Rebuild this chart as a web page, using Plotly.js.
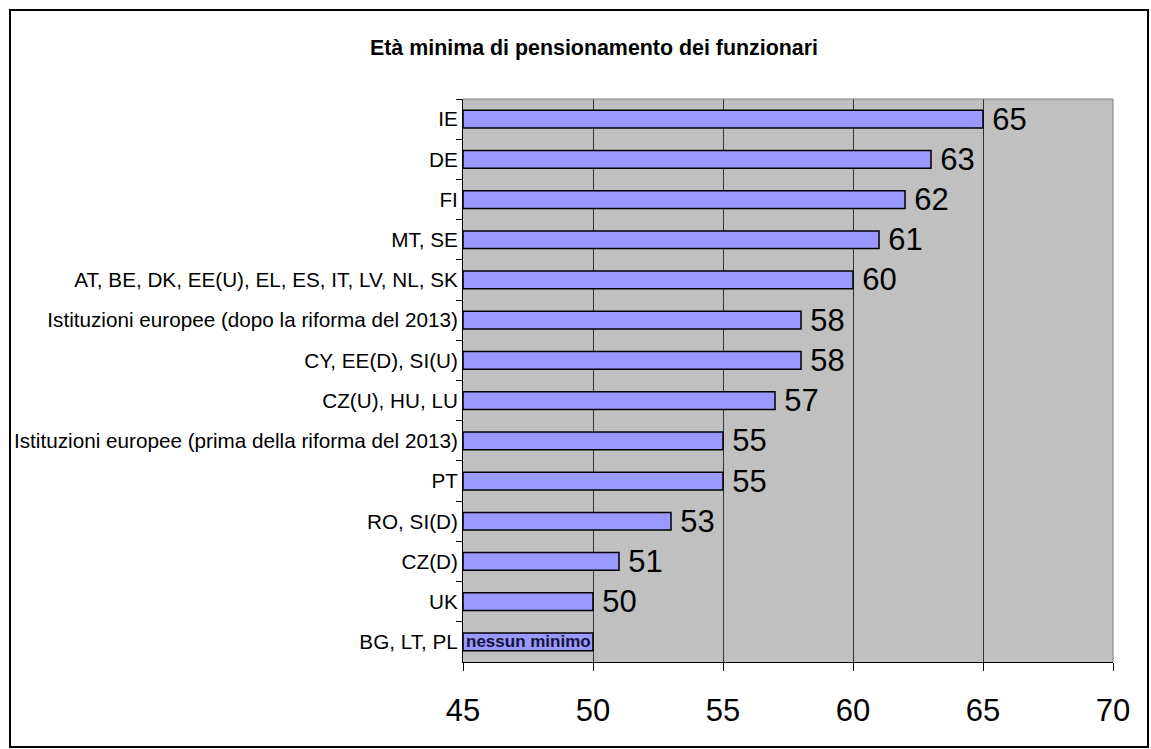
<!DOCTYPE html>
<html>
<head>
<meta charset="utf-8">
<script src="https://cdn.plot.ly/plotly-3.0.1.min.js"></script>
<style>html,body{margin:0;padding:0;background:#fff;}#chart{width:1151px;height:749px;}</style>
</head>
<body>
<div id="chart"></div>
<script>
const categories = [
  "IE",
  "DE",
  "FI",
  "MT, SE",
  "AT, BE, DK, EE(U), EL, ES, IT, LV, NL, SK",
  "Istituzioni europee (dopo la riforma del 2013)",
  "CY, EE(D), SI(U)",
  "CZ(U), HU, LU",
  "Istituzioni europee (prima della riforma del 2013)",
  "PT",
  "RO, SI(D)",
  "CZ(D)",
  "UK",
  "BG, LT, PL"
];
const ages = [65, 63, 62, 61, 60, 58, 58, 57, 55, 55, 53, 51, 50, 50];
const barLabels = ["65", "63", "62", "61", "60", "58", "58", "57", "55", "55", "53", "51", "50", "<b>nessun minimo</b>"];
const labelPositions = ["outside","outside","outside","outside","outside","outside","outside","outside","outside","outside","outside","outside","outside","inside"];
const xTicks = [45, 50, 55, 60, 65, 70];
const axisMin = 45, axisMax = 70;
const chartTitle = "Età minima di pensionamento dei funzionari";

const font = "Arial, 'Liberation Sans', sans-serif";
const textSizes = labelPositions.map(p => p === "inside" ? 17 : 31);
const textColors = labelPositions.map(p => p === "inside" ? "#141433" : "#000");
const displayText = barLabels.map((t, i) => labelPositions[i] === "outside" ? "\u2009" + t : t);

const trace = {
  type: "bar",
  orientation: "h",
  y: categories,
  base: ages.map(() => axisMin),
  x: ages.map(v => v - axisMin),
  text: displayText,
  textposition: labelPositions,
  insidetextanchor: "start",
  constraintext: "none",
  cliponaxis: false,
  textfont: {family: font, size: textSizes, color: textColors},
  marker: {color: "#9999FF", line: {color: "#000", width: 1.5}},
  hoverinfo: "y+text"
};

const L = 463, R = 38, T = 99, B = 87, W = 1151, H = 749;
const pw = W - L - R, ph = H - T - B;
const px = v => (v - L) / pw;
const py = v => (H - B - v) / ph;

const layout = {
  width: W, height: H,
  margin: {l: L, r: R, t: T, b: B, pad: 0},
  paper_bgcolor: "#fff",
  plot_bgcolor: "#C0C0C0",
  showlegend: false,
  bargap: 0.56,
  font: {family: font, color: "#000"},
  title: {
    text: "<b>" + chartTitle + "</b>",
    font: {family: font, size: 21.4, color: "#000"},
    xref: "container", yref: "container",
    x: 594 / W, xanchor: "center",
    y: 1 - 48 / H, yanchor: "middle"
  },
  xaxis: {
    range: [axisMin, axisMax],
    tickvals: xTicks,
    ticktext: xTicks.map(String),
    showgrid: true, gridcolor: "#333", gridwidth: 1,
    zeroline: false,
    showline: true, linecolor: "#000", linewidth: 1,
    ticks: "outside", ticklen: 8, tickcolor: "#000",
    tickfont: {family: font, size: 31, color: "#000"},
    ticklabelstandoff: 13,
    fixedrange: true
  },
  yaxis: {
    type: "category",
    autorange: "reversed",
    showgrid: false,
    zeroline: false,
    showline: true, linecolor: "#000", linewidth: 1,
    ticks: "outside", ticklen: 6, tickcolor: "#000",
    tickson: "boundaries",
    tickfont: {family: font, size: 20.7, color: "#000"},
    fixedrange: true
  },
  shapes: [
    {type: "line", xref: "paper", yref: "paper", x0: 0, x1: 1, y0: 1, y1: 1, line: {color: "#808080", width: 1}, layer: "above"},
    {type: "line", xref: "paper", yref: "paper", x0: 1, x1: 1, y0: 0, y1: 1, line: {color: "#808080", width: 1}, layer: "above"},
    {type: "rect", xref: "paper", yref: "paper", x0: px(10), x1: px(1148), y0: py(747), y1: py(10), line: {color: "#000", width: 2}, fillcolor: "rgba(0,0,0,0)", layer: "above"}
  ]
};

Plotly.newPlot("chart", [trace], layout, {displayModeBar: false, staticPlot: true});
</script>
</body>
</html>
